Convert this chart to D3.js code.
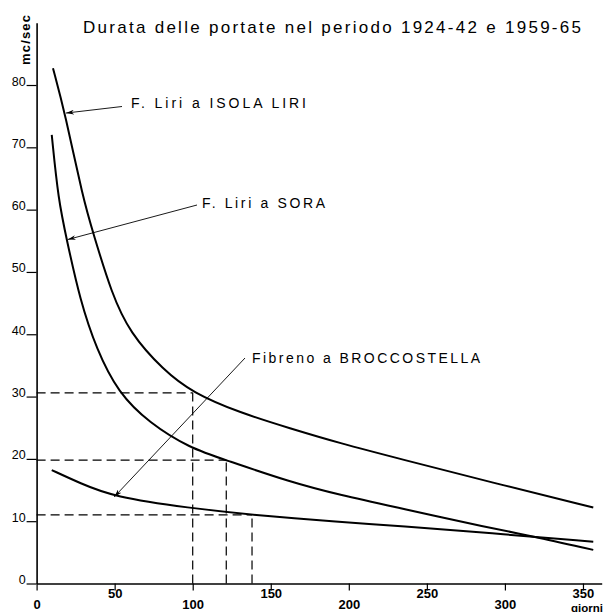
<!DOCTYPE html>
<html>
<head>
<meta charset="utf-8">
<script src="https://cdn.jsdelivr.net/npm/d3@7"></script>
<style>
  body { margin: 0; background: #fff; }
  svg { display: block; font-family: "Liberation Sans", Arial, sans-serif; }
</style>
</head>
<body>
<svg id="vis-durata" width="604" height="612"></svg>
<script>
// giorni (x) and mc/sec (y)
const isolaDays   = [10.5, 18.2, 29.9, 36.3, 48.1, 59.8, 81, 100, 130.3, 162.3, 194.4, 232.8, 290.4, 356.6];
const isolaValues = [82.7, 75.5, 61.6, 56.2, 46.5, 40.2, 34.3, 30.6, 27.4, 24.9, 22.5, 20.0, 16.3, 12.2];

const soraDays   = [9.7, 13.9, 19.3, 27.8, 38.5, 52.3, 72, 98.3, 121.5, 162.3, 194.4, 232.8, 290.4, 316, 356.6];
const soraValues = [72.0, 61.6, 55.2, 45.5, 37.5, 30.6, 25.8, 21.7, 19.8, 16.3, 14.2, 12.1, 8.9, 7.7, 5.4];

const fibrenoDays   = [9.7, 27.8, 49.1, 98.3, 138, 194.4, 232.8, 290.4, 356.6];
const fibrenoValues = [18.2, 16.1, 13.9, 12.1, 11.0, 9.9, 9.2, 8.1, 6.7];

// dashed read-offs
const refDays   = [100, 121.5, 138];
const refValues = [30.6, 19.8, 11.0];

const yTicks = [0, 10, 20, 30, 40, 50, 60, 70, 80];
const xTicks = [0, 50, 100, 150, 200, 250, 300, 350];

const title = "Durata delle portate nel periodo 1924-42 e 1959-65";
const seriesNames = ["F. Liri a  ISOLA LIRI", "F. Liri  a  SORA", "Fibreno  a  BROCCOSTELLA"];

const svg = d3.select("svg#vis-durata");

const x = d3.scaleLinear().domain([0, 362]).range([36.6, 601.7]);
const y = d3.scaleLinear().domain([0, 90]).range([583.5, 22.7]);

// arrow marker
svg.append("defs").append("marker")
  .attr("id", "arrow")
  .attr("viewBox", "0 0 10 6")
  .attr("refX", 10).attr("refY", 3)
  .attr("markerWidth", 8).attr("markerHeight", 5)
  .attr("markerUnits", "userSpaceOnUse")
  .attr("orient", "auto")
  .append("path")
  .attr("d", "M0,0 L10,3 L0,6 L3,3 Z")
  .attr("fill", "#000");

// dashed guides
const guides = svg.append("g")
  .attr("stroke", "#000")
  .attr("stroke-width", 1.2)
  .attr("stroke-dasharray", "9,5")
  .attr("fill", "none");

refDays.forEach((d, i) => {
  guides.append("line")
    .attr("x1", x(0)).attr("x2", x(d))
    .attr("y1", y(refValues[i])).attr("y2", y(refValues[i]));
  guides.append("line")
    .attr("x1", x(d)).attr("x2", x(d))
    .attr("y1", y(0)).attr("y2", y(refValues[i]));
});

// axes
const yAxis = svg.append("g")
  .attr("transform", `translate(${x(0)},0)`)
  .call(d3.axisLeft(y).tickValues(yTicks).tickSize(10).tickSizeOuter(0));

yAxis.select(".domain").attr("stroke-width", 1.6);
yAxis.selectAll(".tick line").attr("stroke-width", 1.2);
yAxis.selectAll(".tick text")
  .attr("x", -11)
  .attr("dy", "0")
  .attr("font-size", 12.5)
  .attr("font-family", "Liberation Sans, Arial, sans-serif");

const xAxis = svg.append("g")
  .attr("transform", `translate(0,${y(0)})`)
  .call(d3.axisBottom(x).tickValues(xTicks).tickSize(7).tickSizeOuter(0));

xAxis.select(".domain").attr("stroke-width", 1.6);
xAxis.selectAll(".tick line").attr("stroke-width", 1.2);
xAxis.selectAll(".tick text")
  .attr("y", (d, i) => i % 2 ? 14.5 : 25)
  .attr("dy", "0")
  .attr("font-size", 13)
  .attr("font-weight", "bold")
  .attr("font-family", "Liberation Sans, Arial, sans-serif");

// curves
const line = d3.line()
  .x(d => x(d[0]))
  .y(d => y(d[1]))
  .curve(d3.curveBasis);

const series = [
  d3.zip(isolaDays, isolaValues),
  d3.zip(soraDays, soraValues),
  d3.zip(fibrenoDays, fibrenoValues)
];

svg.append("g")
  .selectAll("path")
  .data(series)
  .join("path")
  .attr("fill", "none")
  .attr("stroke", "#000")
  .attr("stroke-width", 2)
  .attr("d", line);

// title and axis names
svg.append("text")
  .attr("x", 83).attr("y", 33)
  .attr("font-size", 17)
  .attr("textLength", 498)
  .attr("lengthAdjust", "spacing")
  .text(title);

svg.append("text")
  .attr("transform", "translate(30,40) rotate(-90)")
  .attr("text-anchor", "middle")
  .attr("font-size", 13)
  .attr("font-weight", "bold")
  .attr("textLength", 50)
  .attr("lengthAdjust", "spacing")
  .text("mc/sec");

svg.append("text")
  .attr("x", 603).attr("y", 611.5)
  .attr("text-anchor", "end")
  .attr("font-size", 11.5)
  .attr("font-weight", "bold")
  .text("giorni");

// series labels with leaders
const labelAt = [
  { tx: 131, ty: 108, len: 175, from: [122, 106.5], to: [isolaDays[1], isolaValues[1]] },
  { tx: 202, ty: 208, len: 123, from: [197, 205], to: [soraDays[2], soraValues[2]] },
  { tx: 252, ty: 363, len: 228, from: [245, 358], to: [fibrenoDays[2], fibrenoValues[2]] }
];

labelAt.forEach((l, i) => {
  svg.append("text")
    .attr("x", l.tx).attr("y", l.ty)
    .attr("font-size", 14)
    .attr("textLength", l.len)
    .attr("lengthAdjust", "spacing")
    .text(seriesNames[i]);

  svg.append("line")
    .attr("x1", l.from[0]).attr("y1", l.from[1])
    .attr("x2", x(l.to[0]) + 1).attr("y2", y(l.to[1]))
    .attr("stroke", "#000")
    .attr("stroke-width", 0.9)
    .attr("marker-end", "url(#arrow)");
});
</script>
</body>
</html>
